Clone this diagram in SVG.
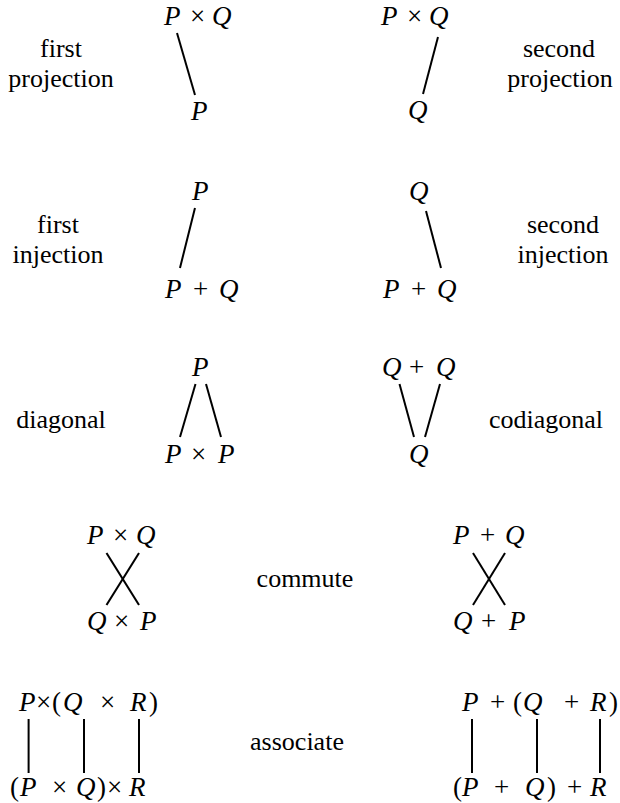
<svg xmlns="http://www.w3.org/2000/svg" width="620" height="803" viewBox="0 0 620 803">
<style>
  .t { font-family: 'Liberation Serif', 'Times New Roman', 'DejaVu Serif', serif; fill: #000; }
  .lab { font-size: 26px; text-anchor: middle; }
  .m { font-size: 27px; font-style: italic; }
  .o { font-style: normal; }
  .ln { stroke: #000; stroke-width: 2; fill: none; }
</style>
<rect width="620" height="803" fill="#fff"/>

<g id="labels">
  <text class="t lab" x="61" y="57">first</text>
  <text class="t lab" x="61" y="87">projection</text>
  <text class="t lab" x="559" y="57">second</text>
  <text class="t lab" x="560" y="87">projection</text>
  <text class="t lab" x="58" y="233">first</text>
  <text class="t lab" x="58" y="263">injection</text>
  <text class="t lab" x="563" y="233">second</text>
  <text class="t lab" x="563" y="263">injection</text>
  <text class="t lab" x="61" y="428">diagonal</text>
  <text class="t lab" x="546" y="428">codiagonal</text>
  <text class="t lab" x="305" y="587">commute</text>
  <text class="t lab" x="297" y="750">associate</text>
</g>

<g id="nodes">
<g id="n-r1l-top"><text class="t m" y="25"><tspan x="164">P</tspan><tspan class="o" x="190">×</tspan><tspan x="212">Q</tspan></text></g>
<g id="n-r1l-bot"><text class="t m" x="191" y="120">P</text></g>
<g id="n-r1r-top"><text class="t m" y="25"><tspan x="381">P</tspan><tspan class="o" x="407">×</tspan><tspan x="429">Q</tspan></text></g>
<g id="n-r1r-bot"><text class="t m" x="408" y="119">Q</text></g>

<g id="n-r2l-top"><text class="t m" x="192" y="200">P</text></g>
<g id="n-r2l-bot"><text class="t m" y="298"><tspan x="165">P</tspan><tspan class="o" x="193">+</tspan><tspan x="219">Q</tspan></text></g>
<g id="n-r2r-top"><text class="t m" x="409" y="200">Q</text></g>
<g id="n-r2r-bot"><text class="t m" y="298"><tspan x="383">P</tspan><tspan class="o" x="411">+</tspan><tspan x="437">Q</tspan></text></g>

<g id="n-r3l-top"><text class="t m" x="192" y="376">P</text></g>
<g id="n-r3l-bot"><text class="t m" y="463"><tspan x="165">P</tspan><tspan class="o" x="191">×</tspan><tspan x="218">P</tspan></text></g>
<g id="n-r3r-top"><text class="t m" y="376"><tspan x="382">Q</tspan><tspan class="o" x="409">+</tspan><tspan x="436">Q</tspan></text></g>
<g id="n-r3r-bot"><text class="t m" x="409" y="463">Q</text></g>

<g id="n-r4l-top"><text class="t m" y="544"><tspan x="87">P</tspan><tspan class="o" x="113">×</tspan><tspan x="136">Q</tspan></text></g>
<g id="n-r4l-bot"><text class="t m" y="630"><tspan x="87">Q</tspan><tspan class="o" x="114">×</tspan><tspan x="140">P</tspan></text></g>
<g id="n-r4r-top"><text class="t m" y="544"><tspan x="453">P</tspan><tspan class="o" x="480">+</tspan><tspan x="505">Q</tspan></text></g>
<g id="n-r4r-bot"><text class="t m" y="630"><tspan x="453">Q</tspan><tspan class="o" x="481">+</tspan><tspan x="509">P</tspan></text></g>

<g id="n-r5l-top"><text class="t m" y="711"><tspan x="19">P</tspan><tspan class="o" x="36">×</tspan><tspan class="o" x="52">(</tspan><tspan x="63">Q</tspan><tspan class="o" x="100">×</tspan><tspan x="130">R</tspan><tspan class="o" x="149">)</tspan></text></g>
<g id="n-r5l-bot"><text class="t m" y="796"><tspan class="o" x="10">(</tspan><tspan x="20">P</tspan><tspan class="o" x="52">×</tspan><tspan x="76">Q</tspan><tspan class="o" x="97">)</tspan><tspan class="o" x="107">×</tspan><tspan x="129">R</tspan></text></g>
<g id="n-r5r-top"><text class="t m" y="711"><tspan x="462">P</tspan><tspan class="o" x="490">+</tspan><tspan class="o" x="513">(</tspan><tspan x="523">Q</tspan><tspan class="o" x="564">+</tspan><tspan x="590">R</tspan><tspan class="o" x="609">)</tspan></text></g>
<g id="n-r5r-bot"><text class="t m" y="796"><tspan class="o" x="453">(</tspan><tspan x="462">P</tspan><tspan class="o" x="494">+</tspan><tspan x="525">Q</tspan><tspan class="o" x="547">)</tspan><tspan class="o" x="567">+</tspan><tspan x="590">R</tspan></text></g>
</g>

<g id="connectors">
  <line class="ln" x1="177" y1="33" x2="195" y2="95"/>
  <line class="ln" x1="438" y1="37" x2="423" y2="94"/>
  <line class="ln" x1="195" y1="208" x2="180" y2="268"/>
  <line class="ln" x1="426" y1="211" x2="441" y2="268"/>
  <line class="ln" x1="195.5" y1="384" x2="180" y2="437"/>
  <line class="ln" x1="206" y1="384" x2="221" y2="437"/>
  <line class="ln" x1="399.5" y1="384" x2="414" y2="437"/>
  <line class="ln" x1="440" y1="384" x2="425" y2="437"/>
  <line class="ln" x1="106.5" y1="553" x2="139" y2="605"/>
  <line class="ln" x1="139" y1="553" x2="106.5" y2="605"/>
  <line class="ln" x1="473" y1="553" x2="505" y2="605"/>
  <line class="ln" x1="505" y1="553" x2="473" y2="605"/>
  <line class="ln" x1="28.6" y1="719" x2="28.6" y2="773"/>
  <line class="ln" x1="84" y1="719" x2="84" y2="773"/>
  <line class="ln" x1="139" y1="719" x2="139" y2="773"/>
  <line class="ln" x1="472" y1="719" x2="472" y2="773"/>
  <line class="ln" x1="537" y1="719" x2="537" y2="773"/>
  <line class="ln" x1="600" y1="719" x2="600" y2="773"/>
</g>
</svg>
